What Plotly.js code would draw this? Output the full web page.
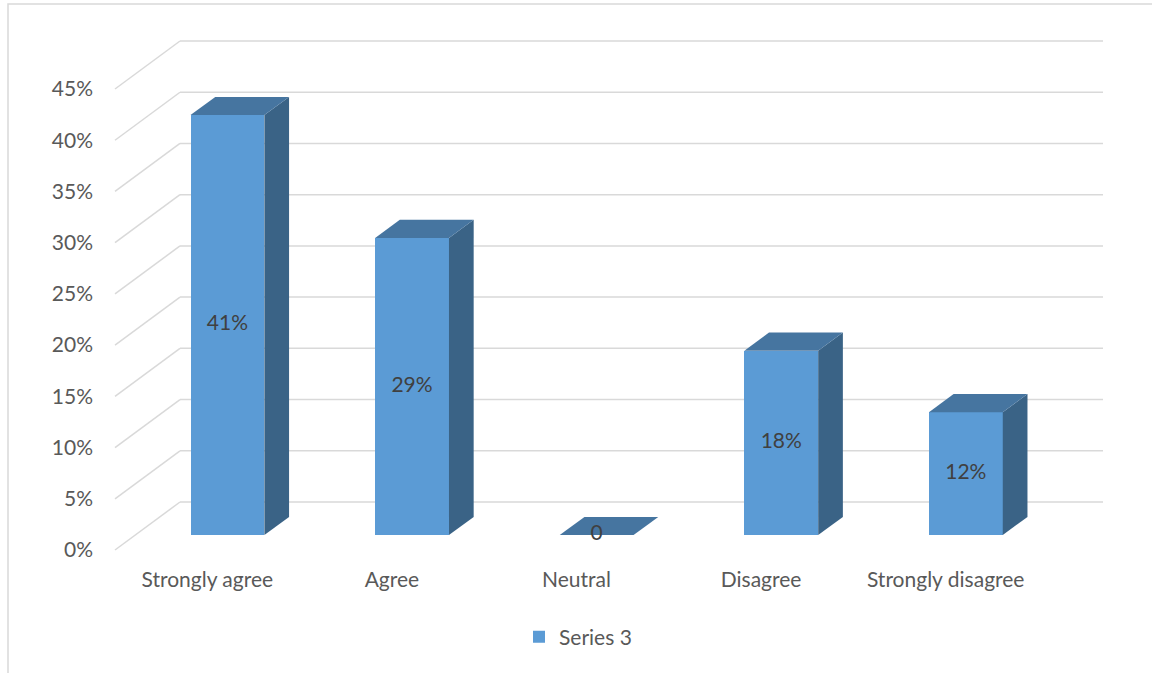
<!DOCTYPE html>
<html>
<head>
<meta charset="utf-8">
<script src="https://cdn.plot.ly/plotly-3.0.1.min.js"></script>
<style>
  html, body { margin: 0; padding: 0; background: #ffffff; }
  #chart { width: 1152px; height: 673px; }
</style>
</head>
<body>
<div id="chart"></div>
<script>
// Survey responses (percent of respondents)
const categories = ['Strongly agree', 'Agree', 'Neutral', 'Disagree', 'Strongly disagree'];
const values = [41, 29, 0, 18, 12];
const dataLabels = ['41%', '29%', '0', '18%', '12%'];
const seriesName = 'Series 3';
const yTicks = [0, 5, 10, 15, 20, 25, 30, 35, 40, 45];

// Plot geometry (pixels) used for the oblique 3-D projection
const W = 1152, H = 673;
const M = { l: 98, r: 12, t: 30, b: 113 };
const PX_PER_CAT = 184.6;     // horizontal pixels per category slot
const PX_PER_PCT = 10.244;    // vertical pixels per percentage point
const FLOOR_LEFT_PX = 115;    // pixel x of the front-left floor corner
const ZERO_PX = 550;          // pixel y of 0% on the front plane
const DEPTH_PX = { x: 65, y: 48 };

const plotW = W - M.l - M.r, plotH = H - M.t - M.b;
const x0 = -0.5 - (FLOOR_LEFT_PX - M.l) / PX_PER_CAT;
const xRange = [x0, x0 + plotW / PX_PER_CAT];
const y0 = -((H - M.b) - ZERO_PX) / PX_PER_PCT;
const yRange = [y0, y0 + plotH / PX_PER_PCT];

// depth (z from 0 = front to 1 = back wall) in data units
const DX = DEPTH_PX.x / PX_PER_CAT;
const DY = DEPTH_PX.y / PX_PER_PCT;
const Z0 = 0.31, Z1 = 0.69;   // bar depth extent
const BAR_W = 0.40;

const FRONT = '#5B9BD5', TOP = '#4675A0', SIDE = '#3A6386';
const GRID = '#D9D9D9';
const FONT = 'Lato, "Open Sans", sans-serif';
const FS = 21;

// gridlines: diagonal along the side wall, then across the back wall
const shapes = [];
const n = categories.length;
yTicks.forEach(v => {
  shapes.push({ type: 'line', xref: 'x', yref: 'y', layer: 'below',
    x0: -0.5, y0: v, x1: -0.5 + DX, y1: v + DY,
    line: { color: GRID, width: 1.5 } });
  shapes.push({ type: 'line', xref: 'x', yref: 'y', layer: 'below',
    x0: -0.5 + DX, y0: v + DY, x1: n - 0.5 + DX, y1: v + DY,
    line: { color: GRID, width: 1.5 } });
});
// outer chart frame
shapes.push({ type: 'rect', xref: 'paper', yref: 'paper', layer: 'below',
  x0: (8 - M.l) / plotW, x1: (W + 10 - M.l) / plotW,
  y0: -(H + 10 - (H - M.b)) / plotH, y1: ((H - M.b) - 4) / plotH,
  line: { color: GRID, width: 1.5 }, fillcolor: 'rgba(0,0,0,0)' });

const traces = [];
categories.forEach((c, i) => {
  const v = values[i];
  const xl = i - BAR_W / 2, xr = i + BAR_W / 2;
  // right side face
  traces.push({ type: 'scatter', mode: 'lines', fill: 'toself', fillcolor: SIDE,
    line: { width: 0, color: SIDE }, hoverinfo: 'skip', showlegend: false,
    x: [xr + Z0 * DX, xr + Z0 * DX, xr + Z1 * DX, xr + Z1 * DX, xr + Z0 * DX],
    y: [Z0 * DY, v + Z0 * DY, v + Z1 * DY, Z1 * DY, Z0 * DY] });
  // top face
  traces.push({ type: 'scatter', mode: 'lines', fill: 'toself', fillcolor: TOP,
    line: { width: 0, color: TOP }, hoverinfo: 'skip', showlegend: false,
    x: [xl + Z0 * DX, xr + Z0 * DX, xr + Z1 * DX, xl + Z1 * DX, xl + Z0 * DX],
    y: [v + Z0 * DY, v + Z0 * DY, v + Z1 * DY, v + Z1 * DY, v + Z0 * DY] });
});

// front faces
traces.push({
  type: 'bar', name: seriesName,
  x: categories.map((c, i) => i + Z0 * DX),
  y: values,
  base: values.map(() => Z0 * DY),
  width: BAR_W,
  marker: { color: FRONT, line: { width: 0 } },
  hoverinfo: 'skip', showlegend: true
});

// value labels centred on the front faces
traces.push({
  type: 'scatter', mode: 'text', showlegend: false, hoverinfo: 'skip',
  x: categories.map((c, i) => i + Z0 * DX),
  y: values.map(v => v / 2 + Z0 * DY),
  text: dataLabels,
  textposition: 'middle center',
  textfont: { family: FONT, size: FS, color: '#404040' }
});

const layout = {
  width: W, height: H,
  margin: M,
  paper_bgcolor: '#ffffff', plot_bgcolor: 'rgba(0,0,0,0)',
  showlegend: true,
  legend: {
    orientation: 'h', x: (519 - M.l) / plotW, xanchor: 'left',
    y: -((637 - (H - M.b)) / plotH), yanchor: 'middle',
    font: { family: FONT, size: FS, color: '#595959' }
  },
  xaxis: {
    range: xRange, showgrid: false, zeroline: false, showline: false,
    tickmode: 'array', tickvals: categories.map((c, i) => i), ticktext: categories,
    ticks: '', ticklabelstandoff: 5,
    tickfont: { family: FONT, size: FS, color: '#595959' },
    fixedrange: true
  },
  yaxis: {
    range: yRange, showgrid: false, zeroline: false, showline: false,
    tickmode: 'array', tickvals: yTicks, ticktext: yTicks.map(t => t + '%'),
    ticks: '', ticklabelstandoff: 4,
    tickfont: { family: FONT, size: FS, color: '#595959' },
    fixedrange: true
  },
  shapes: shapes,
  bargap: 0
};

Plotly.newPlot('chart', traces, layout, { displayModeBar: false, staticPlot: true });
</script>
</body>
</html>
